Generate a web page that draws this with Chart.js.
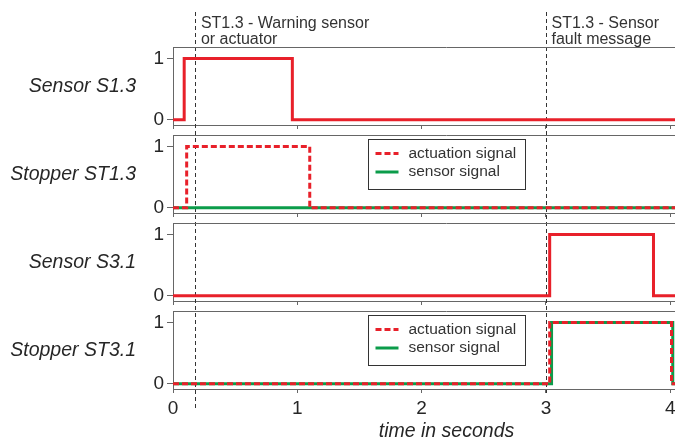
<!DOCTYPE html>
<html>
<head>
<meta charset="utf-8">
<script src="https://cdn.jsdelivr.net/npm/chart.js@4.4.1/dist/chart.umd.min.js"></script>
<style>
  html, body { margin: 0; padding: 0; background: #fff; width: 675px; height: 440px; overflow: hidden; }
  .panel { position: absolute; left: 0; }
</style>
</head>
<body>
<div class="panel" style="top:0px"><canvas id="p0" width="720" height="130"></canvas></div>
<div class="panel" style="top:130px"><canvas id="p1" width="720" height="88"></canvas></div>
<div class="panel" style="top:218px"><canvas id="p2" width="720" height="88"></canvas></div>
<div class="panel" style="top:306px"><canvas id="p3" width="720" height="134"></canvas></div>
<script>
// signal data: time of each change (s) and the value from that time on
const panelLabels = ['Sensor S1.3', 'Stopper ST1.3', 'Sensor S3.1', 'Stopper ST3.1'];
const xTicks = [0, 1, 2, 3, 4];
const yTicks = [0, 1];
const legendLabels = ['actuation signal', 'sensor signal'];
const markerTimes = [0.18, 3.0];
const markerTexts = [['ST1.3 - Warning sensor', 'or actuator'], ['ST1.3 - Sensor', 'fault message']];

const s13Times = [0, 0.09, 0.96, 4.4];
const s13Values = [0, 1, 0, 0];
const st13ActTimes = [0, 0.11, 1.1, 4.4];
const st13ActValues = [0, 1, 0, 0];
const st13SenTimes = [0, 4.4];
const st13SenValues = [0, 0];
const s31Times = [0, 3.03, 3.865, 4.4];
const s31Values = [0, 1, 0, 0];
const st31ActTimes = [0, 3.03, 4.01, 4.4];
const st31ActValues = [0, 1, 0, 0];
const st31SenTimes = [0, 3.045, 4.02, 4.4];
const st31SenValues = [0, 1, 0, 0];

const RED = '#e8202a';
const GREEN = '#0b9c4a';
const FRAME = '#666';
const TEXT = '#262626';
const FONT = '"Liberation Sans", Arial, sans-serif';

Chart.defaults.font.family = FONT;
Chart.defaults.color = TEXT;

function pts(times, values) {
  return times.map((t, i) => ({ x: t, y: values[i] }));
}

function actuation(times, values) {
  return { label: legendLabels[0], data: pts(times, values), borderColor: RED, borderDash: [6, 3] };
}
function sensor(times, values) {
  return { label: legendLabels[1], data: pts(times, values), borderColor: GREEN };
}

const panels = [
  { canvasTop: 0, canvasH: 130, top: 47, bottom: 125,
    datasets: [{ label: 'S1.3', data: pts(s13Times, s13Values), borderColor: RED }] },
  { canvasTop: 130, canvasH: 88, top: 135, bottom: 213, legend: true,
    datasets: [actuation(st13ActTimes, st13ActValues), sensor(st13SenTimes, st13SenValues)] },
  { canvasTop: 218, canvasH: 88, top: 223, bottom: 301,
    datasets: [{ label: 'S3.1', data: pts(s31Times, s31Values), borderColor: RED }] },
  { canvasTop: 306, canvasH: 134, top: 311, bottom: 389, legend: true, last: true,
    datasets: [actuation(st31ActTimes, st31ActValues), sensor(st31SenTimes, st31SenValues)] }
];

const markerEnds = [410, 393];

const decor = {
  id: 'decor',
  beforeDatasetsDraw(chart, args, o) {
    const ctx = chart.ctx, xs = chart.scales.x;
    ctx.save();
    ctx.strokeStyle = '#333';
    ctx.lineWidth = 1;
    ctx.setLineDash([4, 3]);
    markerTimes.forEach((t, i) => {
      const x = Math.round(xs.getPixelForValue(t)) + 0.5;
      const y0 = 12, y1 = markerEnds[i];
      const a = Math.max(y0, o.canvasTop), b = Math.min(y1, o.canvasTop + chart.height);
      if (b <= a) return;
      ctx.lineDashOffset = a - y0;
      ctx.beginPath();
      ctx.moveTo(x, a - o.canvasTop);
      ctx.lineTo(x, b - o.canvasTop);
      ctx.stroke();
    });
    ctx.restore();
  },
  afterDraw(chart, args, o) {
    const ctx = chart.ctx, ca = chart.chartArea, xs = chart.scales.x;
    ctx.save();
    // top edge of the frame
    ctx.strokeStyle = FRAME;
    ctx.lineWidth = 1;
    ctx.beginPath();
    ctx.moveTo(ca.left, Math.round(ca.top) + 0.5);
    ctx.lineTo(ca.right, Math.round(ca.top) + 0.5);
    ctx.stroke();

    // panel name on the left
    ctx.fillStyle = TEXT;
    ctx.font = 'italic 19.5px ' + FONT;
    ctx.textAlign = 'right';
    ctx.textBaseline = 'middle';
    ctx.fillText(panelLabels[o.index], 136, (ca.top + ca.bottom) / 2 + 1);

    // event notes above the first panel
    if (o.index === 0) {
      ctx.font = '16px ' + FONT;
      ctx.fillStyle = '#333';
      ctx.textAlign = 'left';
      ctx.textBaseline = 'alphabetic';
      markerTimes.forEach((t, i) => {
        const x = xs.getPixelForValue(t) + 5.5;
        markerTexts[i].forEach((line, j) => ctx.fillText(line, x, 27.5 + j * 16));
      });
    }

    // legend box
    if (o.legend) {
      const bx = 368.5, by = Math.round(ca.top) + 4.5, bw = 157, bh = 50;
      ctx.fillStyle = '#fff';
      ctx.fillRect(bx, by, bw, bh);
      ctx.strokeStyle = '#333';
      ctx.lineWidth = 1;
      ctx.setLineDash([]);
      ctx.strokeRect(bx, by, bw, bh);
      ctx.font = '15.5px ' + FONT;
      ctx.textAlign = 'left';
      ctx.textBaseline = 'middle';
      chart.data.datasets.forEach((ds, i) => {
        const ry = by + 14 + i * 18.5;
        ctx.strokeStyle = ds.borderColor;
        ctx.lineWidth = 3;
        ctx.setLineDash(ds.borderDash || []);
        ctx.beginPath();
        ctx.moveTo(bx + 7, ry);
        ctx.lineTo(bx + 30, ry);
        ctx.stroke();
        ctx.fillStyle = '#333';
        ctx.fillText(ds.label, bx + 40, ry);
      });
    }
    ctx.restore();
  }
};

panels.forEach((p, i) => {
  const axisH = p.canvasTop + p.canvasH - p.bottom;
  new Chart(document.getElementById('p' + i), {
    type: 'line',
    data: {
      datasets: p.datasets.map(ds => Object.assign({
        stepped: 'before',
        borderWidth: 3,
        pointRadius: 0,
        fill: false,
        borderJoinStyle: 'miter',
        borderCapStyle: 'butt'
      }, ds))
    },
    options: {
      responsive: false,
      animation: false,
      events: [],
      layout: { autoPadding: false, padding: { top: p.top - p.canvasTop, left: 0, right: 0, bottom: 0 } },
      plugins: {
        legend: { display: false },
        tooltip: { enabled: false },
        decor: { index: i, canvasTop: p.canvasTop, legend: !!p.legend }
      },
      scales: {
        x: {
          type: 'linear',
          min: 0,
          max: 4.4,
          afterBuildTicks: a => { a.ticks = xTicks.map(v => ({ value: v })); },
          afterFit: a => { a.height = axisH; a.paddingLeft = 0; a.paddingRight = 0; },
          grid: { drawOnChartArea: false, drawTicks: true, tickLength: 4, color: FRAME, lineWidth: 1 },
          border: { display: true, color: FRAME, width: 1 },
          ticks: { display: !!p.last, padding: 4, color: TEXT, font: { size: 19 } },
          title: {
            display: !!p.last,
            text: 'time in seconds',
            color: TEXT,
            font: { size: 19.5, style: 'italic' },
            padding: { top: 0, bottom: -3 }
          }
        },
        y: {
          type: 'linear',
          min: -0.085,
          max: 1.19,
          afterBuildTicks: a => { a.ticks = yTicks.map(v => ({ value: v })); },
          afterFit: a => { a.width = 173; a.paddingTop = 0; a.paddingBottom = 0; },
          grid: { drawOnChartArea: false, drawTicks: true, tickLength: 6, color: FRAME, lineWidth: 1 },
          border: { display: true, color: FRAME, width: 1 },
          ticks: { padding: 3, color: TEXT, font: { size: 19 } }
        }
      }
    },
    plugins: [decor]
  });
});
</script>
</body>
</html>
